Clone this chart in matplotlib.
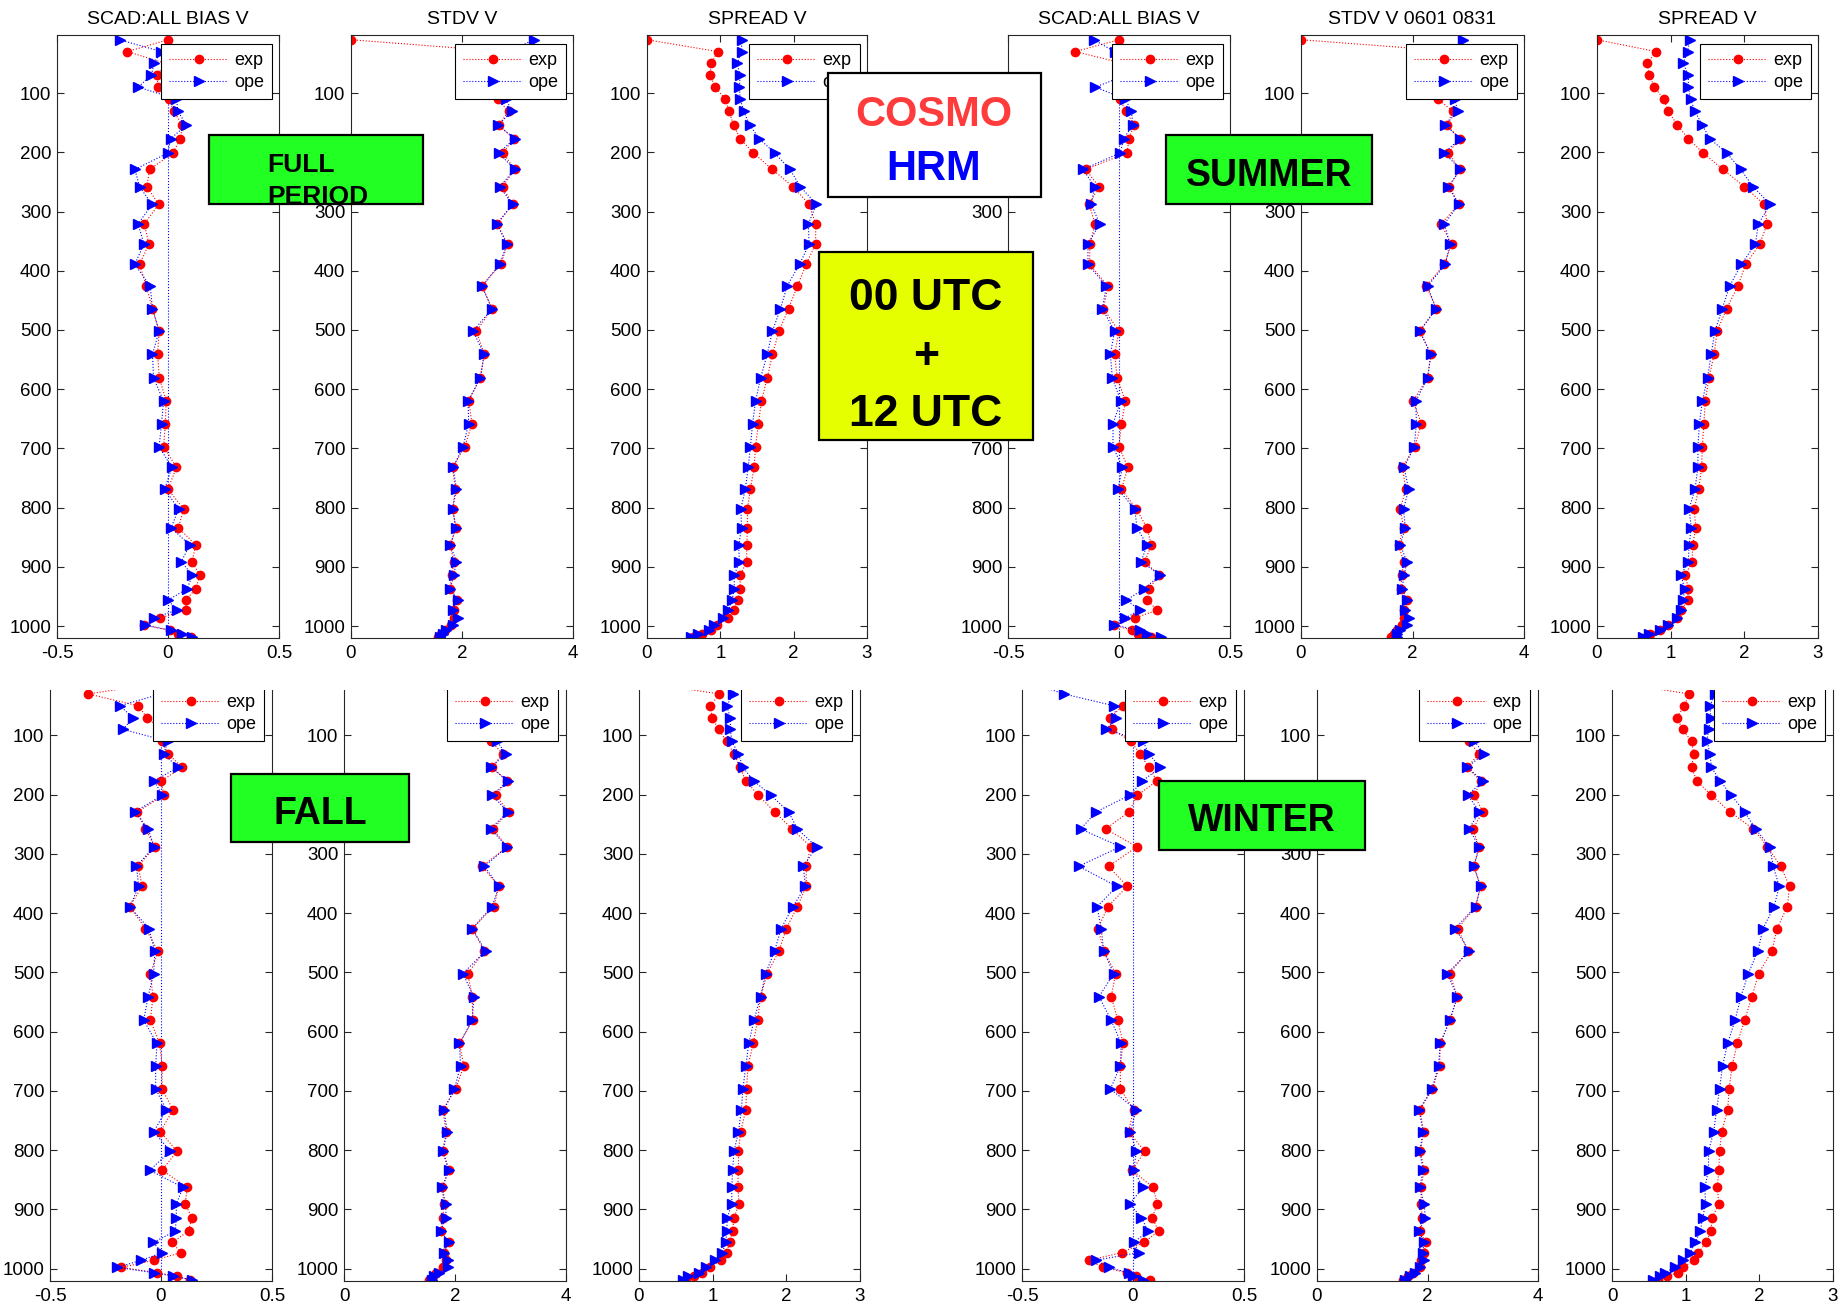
import matplotlib
matplotlib.use("Agg")
import matplotlib.pyplot as plt
import matplotlib.patches as patches

plt.rcParams['font.family'] = ['Liberation Sans', 'DejaVu Sans']
plt.rcParams['axes.unicode_minus'] = False

# pressure of the model levels (hPa)
plev = [10, 30, 50, 70, 90, 110, 131, 154, 177, 201, 229, 258, 288, 321, 355,
        389, 426, 464, 502, 541, 581, 620, 658, 697, 732, 769, 802, 834, 863,
        891, 914, 937, 956, 973, 986, 998, 1007, 1013, 1019]

# ---- full period ----
bias_full_exp = [0.0, -0.183, -0.01, -0.05, -0.044, 0.005, 0.026, 0.065, 0.056, 0.023,
                 -0.083, -0.095, -0.042, -0.107, -0.086, -0.128, -0.098, -0.07, -0.04, -0.047,
                 -0.039, -0.008, -0.012, -0.02, 0.038, 0.0, 0.07, 0.047, 0.125, 0.108,
                 0.143, 0.125, 0.08, 0.083, -0.035, -0.11, 0.008, 0.045, 0.105]
bias_full_ope = [-0.218, -0.03, -0.063, -0.075, -0.135, 0.038, 0.045, 0.083, 0.012, 0.0,
                 -0.149, -0.128, -0.072, -0.135, -0.108, -0.15, -0.08, -0.07, -0.04, -0.07,
                 -0.065, -0.02, -0.029, -0.04, 0.017, -0.015, 0.048, 0.014, 0.098, 0.06,
                 0.11, 0.086, 0.0, 0.04, -0.065, -0.105, 0.015, 0.065, 0.11]
stdv_full_exp = [0.0, 2.76, 2.7, 2.75, 2.7, 2.64, 2.84, 2.66, 2.93, 2.74,
                 2.95, 2.73, 2.91, 2.63, 2.82, 2.7, 2.36, 2.54, 2.26, 2.4,
                 2.33, 2.12, 2.18, 2.05, 1.83, 1.88, 1.83, 1.89, 1.79, 1.85,
                 1.82, 1.78, 1.91, 1.86, 1.85, 1.8, 1.69, 1.63, 1.56]
stdv_full_ope = [3.29, 2.85, 2.75, 2.8, 2.75, 2.79, 2.9, 2.65, 2.95, 2.66,
                 2.95, 2.68, 2.91, 2.63, 2.81, 2.68, 2.36, 2.54, 2.2, 2.4,
                 2.33, 2.11, 2.12, 2.02, 1.84, 1.9, 1.83, 1.89, 1.79, 1.9,
                 1.85, 1.79, 1.93, 1.84, 1.92, 1.84, 1.72, 1.65, 1.6]
sprd_full_exp = [0.0, 0.965, 0.875, 0.86, 0.93, 1.065, 1.12, 1.18, 1.27, 1.45,
                 1.71, 1.99, 2.21, 2.30, 2.30, 2.17, 2.05, 1.93, 1.80, 1.71,
                 1.64, 1.56, 1.52, 1.48, 1.46, 1.41, 1.37, 1.37, 1.36, 1.36,
                 1.27, 1.27, 1.24, 1.18, 1.11, 0.96, 0.875, 0.75, 0.63]
sprd_full_ope = [1.29, 1.29, 1.23, 1.27, 1.26, 1.27, 1.32, 1.40, 1.53, 1.74,
                 1.95, 2.09, 2.31, 2.2, 2.21, 2.08, 1.91, 1.82, 1.71, 1.64,
                 1.55, 1.48, 1.44, 1.41, 1.38, 1.34, 1.28, 1.29, 1.25, 1.26,
                 1.19, 1.19, 1.16, 1.11, 1.03, 0.91, 0.84, 0.69, 0.60]

# ---- summer (0601-0831) ----
bias_sum_exp = [0.0, -0.197, 0.02, 0.01, -0.01, 0.003, 0.033, 0.068, 0.045, 0.036,
                -0.15, -0.09, -0.135, -0.107, -0.132, -0.132, -0.05, -0.07, 0.0, -0.02,
                -0.008, 0.029, 0.011, 0.0, 0.04, 0.011, 0.078, 0.126, 0.146, 0.116,
                0.18, 0.135, 0.128, 0.171, 0.074, -0.024, 0.059, 0.086, 0.146]
bias_sum_ope = [-0.114, -0.02, 0.0, 0.03, -0.107, 0.029, 0.056, 0.063, 0.021, 0.006,
                -0.162, -0.11, -0.125, -0.087, -0.14, -0.14, -0.057, -0.075, -0.02, -0.039,
                -0.03, 0.008, -0.027, -0.027, 0.015, -0.005, 0.071, 0.081, 0.126, 0.1,
                0.186, 0.113, 0.033, 0.093, 0.029, -0.024, 0.093, 0.128, 0.19]
stdv_sum_exp = [0.0, 2.8, 2.75, 2.8, 2.7, 2.45, 2.73, 2.61, 2.85, 2.64,
                2.85, 2.66, 2.83, 2.51, 2.70, 2.57, 2.25, 2.43, 2.13, 2.33,
                2.27, 2.01, 2.16, 2.04, 1.82, 1.88, 1.78, 1.84, 1.75, 1.84,
                1.81, 1.79, 1.90, 1.85, 1.85, 1.81, 1.72, 1.67, 1.61]
stdv_sum_ope = [2.91, 2.85, 2.8, 2.85, 2.75, 2.76, 2.81, 2.59, 2.85, 2.57,
                2.86, 2.64, 2.83, 2.57, 2.67, 2.59, 2.27, 2.42, 2.13, 2.33,
                2.27, 2.06, 2.07, 2.03, 1.85, 1.93, 1.84, 1.87, 1.78, 1.90,
                1.85, 1.81, 1.91, 1.87, 1.94, 1.90, 1.78, 1.73, 1.72]
sprd_sum_exp = [0.0, 0.805, 0.68, 0.71, 0.78, 0.905, 0.97, 1.09, 1.24, 1.44,
                1.71, 2.0, 2.27, 2.31, 2.21, 2.02, 1.91, 1.76, 1.63, 1.59,
                1.52, 1.47, 1.45, 1.43, 1.42, 1.38, 1.32, 1.34, 1.30, 1.29,
                1.20, 1.24, 1.23, 1.14, 1.09, 0.96, 0.85, 0.715, 0.66]
sprd_sum_ope = [1.26, 1.23, 1.17, 1.24, 1.24, 1.27, 1.33, 1.43, 1.53, 1.76,
                1.95, 2.12, 2.35, 2.19, 2.15, 1.96, 1.80, 1.70, 1.60, 1.55,
                1.50, 1.43, 1.39, 1.37, 1.37, 1.33, 1.25, 1.28, 1.25, 1.24,
                1.14, 1.19, 1.17, 1.14, 1.09, 0.96, 0.85, 0.71, 0.62]

# ---- fall ----
bias_fall_exp = [0.03, -0.328, -0.103, -0.063, 0.0, 0.005, 0.031, 0.096, 0.0, 0.013,
                 -0.106, -0.07, -0.028, -0.103, -0.085, -0.141, -0.07, -0.013, -0.048, -0.036,
                 -0.048, -0.006, 0.005, 0.005, 0.054, -0.003, 0.072, 0.005, 0.118, 0.109,
                 0.139, 0.124, 0.049, 0.091, -0.031, -0.178, -0.02, 0.07, 0.13]
bias_fall_ope = [-0.05, 0.0, -0.186, -0.126, -0.171, 0.031, 0.012, 0.076, -0.031, 0.006,
                 -0.118, -0.058, -0.031, -0.111, -0.1, -0.141, -0.055, -0.028, -0.033, -0.058,
                 -0.078, -0.018, -0.024, -0.024, 0.024, -0.033, 0.042, -0.051, 0.099, 0.069,
                 0.069, 0.064, -0.036, 0.006, -0.088, -0.198, -0.03, 0.055, 0.14]
stdv_fall_exp = [0.0, 2.8, 2.7, 2.75, 2.7, 2.65, 2.86, 2.67, 2.94, 2.73,
                 2.97, 2.68, 2.94, 2.49, 2.79, 2.70, 2.31, 2.53, 2.23, 2.31,
                 2.32, 2.08, 2.16, 2.01, 1.78, 1.84, 1.78, 1.89, 1.77, 1.80,
                 1.78, 1.75, 1.89, 1.81, 1.83, 1.78, 1.66, 1.60, 1.53]
stdv_fall_ope = [3.0, 2.85, 2.75, 2.8, 2.75, 2.76, 2.91, 2.65, 2.95, 2.67,
                 2.95, 2.64, 2.94, 2.53, 2.79, 2.67, 2.31, 2.55, 2.14, 2.34,
                 2.31, 2.08, 2.10, 1.99, 1.80, 1.86, 1.78, 1.89, 1.77, 1.83,
                 1.84, 1.74, 1.89, 1.80, 1.87, 1.87, 1.72, 1.63, 1.59]
sprd_fall_exp = [0.0, 1.09, 0.97, 0.99, 1.08, 1.19, 1.29, 1.37, 1.45, 1.62,
                 1.84, 2.08, 2.33, 2.27, 2.27, 2.15, 2.0, 1.90, 1.74, 1.65,
                 1.61, 1.55, 1.48, 1.46, 1.45, 1.38, 1.35, 1.35, 1.34, 1.36,
                 1.29, 1.27, 1.23, 1.19, 1.11, 0.96, 0.86, 0.74, 0.64]
sprd_fall_ope = [1.3, 1.28, 1.19, 1.24, 1.24, 1.26, 1.35, 1.41, 1.56, 1.79,
                 2.03, 2.15, 2.41, 2.23, 2.26, 2.09, 1.93, 1.84, 1.72, 1.65,
                 1.56, 1.49, 1.45, 1.41, 1.39, 1.35, 1.29, 1.27, 1.26, 1.26,
                 1.20, 1.19, 1.18, 1.13, 1.03, 0.91, 0.82, 0.67, 0.60]

# ---- winter ----
bias_win_exp = [0.0, 0.0, -0.045, -0.102, -0.095, -0.008, 0.03, 0.072, 0.108, 0.02,
                -0.018, -0.123, 0.018, -0.11, -0.026, -0.113, -0.158, -0.131, -0.078, -0.098,
                -0.068, -0.045, -0.057, -0.057, 0.003, -0.02, 0.053, -0.003, 0.09, 0.11,
                0.086, 0.116, 0.048, -0.05, -0.198, -0.135, -0.026, 0.015, 0.078]
bias_win_ope = [-0.47, -0.312, -0.086, -0.075, -0.12, 0.045, 0.071, 0.123, 0.042, -0.015,
                -0.165, -0.236, -0.057, -0.245, -0.072, -0.162, -0.143, -0.132, -0.087, -0.153,
                -0.098, -0.053, -0.057, -0.102, 0.015, -0.012, 0.015, 0.003, 0.045, -0.015,
                0.038, 0.068, 0.003, 0.026, -0.168, -0.11, -0.02, 0.0, 0.045]
stdv_win_exp = [0.0, 2.85, 2.8, 2.85, 2.8, 2.75, 2.93, 2.72, 2.96, 2.85,
                3.0, 2.82, 2.93, 2.84, 2.96, 2.87, 2.55, 2.73, 2.40, 2.54,
                2.41, 2.23, 2.22, 2.09, 1.86, 1.93, 1.87, 1.94, 1.88, 1.89,
                1.90, 1.86, 1.97, 1.94, 1.89, 1.86, 1.74, 1.65, 1.56]
stdv_win_ope = [3.1, 2.9, 2.85, 2.9, 2.85, 2.85, 3.02, 2.72, 3.0, 2.73,
                2.94, 2.75, 2.94, 2.84, 2.96, 2.87, 2.50, 2.76, 2.36, 2.54,
                2.40, 2.23, 2.20, 2.08, 1.85, 1.92, 1.86, 1.92, 1.86, 1.94,
                1.96, 1.85, 1.94, 1.91, 1.93, 1.87, 1.77, 1.68, 1.59]
sprd_win_exp = [0.0, 1.05, 0.98, 0.88, 0.96, 1.08, 1.11, 1.08, 1.15, 1.35,
                1.60, 1.92, 2.11, 2.29, 2.41, 2.38, 2.24, 2.17, 1.99, 1.90,
                1.80, 1.70, 1.63, 1.59, 1.57, 1.49, 1.46, 1.45, 1.43, 1.45,
                1.36, 1.34, 1.28, 1.17, 1.11, 0.97, 0.90, 0.74, 0.63]
sprd_win_ope = [1.38, 1.40, 1.33, 1.34, 1.31, 1.29, 1.33, 1.35, 1.47, 1.62,
                1.80, 1.95, 2.14, 2.19, 2.27, 2.20, 2.05, 1.98, 1.85, 1.75,
                1.67, 1.57, 1.50, 1.46, 1.42, 1.38, 1.31, 1.31, 1.26, 1.27,
                1.23, 1.20, 1.13, 1.06, 0.97, 0.85, 0.72, 0.645, 0.56]

top_titles = ["SCAD:ALL BIAS V", "STDV V", "SPREAD V",
              "SCAD:ALL BIAS V", "STDV V 0601 0831", "SPREAD V"]

W, H = 1841, 1306
fig = plt.figure(figsize=(W / 100, H / 100), dpi=100)

FRAME = '#262626'


def panel(x0, width, row, kind, exp, ope, title=None):
    # row 0: top strip, row 1: lower strip (cut off just below its top)
    if row == 0:
        y_top, y_bot, ylim = 35, 638, (1020, 2)
    else:
        y_top, y_bot, ylim = 690, 1281, (1021, 23.4)
    ax = fig.add_axes([x0 / W, 1 - y_bot / H, width / W, (y_bot - y_top) / H])

    if kind == 'bias':
        xlim, xt, xtl = (-0.5, 0.5), [-0.5, 0, 0.5], ['-0.5', '0', '0.5']
        ax.axvline(0, color='blue', ls=':', lw=0.8, zorder=1)
    elif kind == 'stdv':
        xlim, xt, xtl = (0, 4), [0, 2, 4], ['0', '2', '4']
    else:
        xlim, xt, xtl = (0, 3), [0, 1, 2, 3], ['0', '1', '2', '3']

    ax.plot(exp, plev, color='red', ls=':', lw=0.8, marker='o', ms=6,
            mfc='red', mec='red', label='exp')
    ax.plot(ope, plev, color='blue', ls=':', lw=0.8, marker='>', ms=6.5,
            mfc='blue', mec='blue', label='ope')

    ax.set_xlim(*xlim)
    ax.set_ylim(*ylim)
    ax.set_xticks(xt)
    ax.set_xticklabels(xtl)
    ax.set_yticks(range(100, 1001, 100))
    ax.tick_params(direction='in', length=5, width=0.8, color=FRAME,
                   labelsize=13.5, top=(row == 0), right=True)
    ax.tick_params(axis='y', pad=4)
    ax.tick_params(axis='x', pad=5)
    for s in ax.spines.values():
        s.set_color(FRAME)
        s.set_linewidth(0.8)
    if row == 1:
        ax.spines['top'].set_visible(False)

    h = y_bot - y_top
    if row == 0:
        anchor = (1 - 7 / width, 1 - 9 / h)
    else:
        anchor = (1 - 8 / width, 1 + 4 / h)
    leg = ax.legend(loc='upper right', bbox_to_anchor=anchor, borderaxespad=0,
                    fontsize=13, handlelength=3.3, handletextpad=0.3,
                    labelspacing=0.28, borderpad=0.45, fancybox=False,
                    edgecolor='black', framealpha=1)
    leg.get_frame().set_linewidth(0.8)

    if title:
        ax.set_title(title, fontsize=14, pad=8)
    return ax


top_x = [57, 351, 647, 1008, 1301, 1597]
top_w = [222, 222, 220, 222, 223, 221]
bot_x = [50, 344, 639, 1022, 1317, 1612]
bot_w = [222, 222, 221, 222, 221, 221]
kinds = ['bias', 'stdv', 'spread'] * 2

top_data = [(bias_full_exp, bias_full_ope), (stdv_full_exp, stdv_full_ope),
            (sprd_full_exp, sprd_full_ope), (bias_sum_exp, bias_sum_ope),
            (stdv_sum_exp, stdv_sum_ope), (sprd_sum_exp, sprd_sum_ope)]
bot_data = [(bias_fall_exp, bias_fall_ope), (stdv_fall_exp, stdv_fall_ope),
            (sprd_fall_exp, sprd_fall_ope), (bias_win_exp, bias_win_ope),
            (stdv_win_exp, stdv_win_ope), (sprd_win_exp, sprd_win_ope)]

for i in range(6):
    panel(top_x[i], top_w[i], 0, kinds[i], *top_data[i], title=top_titles[i])
    panel(bot_x[i], bot_w[i], 1, kinds[i], *bot_data[i])

# overlay in pixel coordinates for the labels
ov = fig.add_axes([0, 0, 1, 1], zorder=10)
ov.set_xlim(0, W)
ov.set_ylim(H, 0)
ov.axis('off')

# the lower strip is cut off just below its top edge
ov.add_patch(patches.Rectangle((0, 672), W, 17.6, facecolor='white',
                               edgecolor='none', zorder=1))

GREEN = '#22FF22'
YELLOW = '#E6FF00'


def box(x0, y0, x1, y1, color):
    ov.add_patch(patches.Rectangle((x0, y0), x1 - x0, y1 - y0, facecolor=color,
                                   edgecolor='black', lw=1.6, zorder=2))


def label(x, y, s, size, color='black', ha='center'):
    ov.text(x, y, s, fontsize=size, fontweight='bold', color=color,
            ha=ha, va='center_baseline', zorder=3)


box(209, 135, 423, 204, GREEN)
label(267, 162, "FULL", 19, ha='left')
label(267, 194, "PERIOD", 19, ha='left')

box(828, 73, 1041, 197, 'white')
label(934, 111, "COSMO", 30, color='#FF3B3B')
label(934, 164, "HRM", 30, color='blue')

box(819, 252, 1033, 440, YELLOW)
label(926, 294, "00 UTC", 32)
label(926, 353, "+", 32)
label(926, 410, "12 UTC", 32)

box(1166, 135, 1372, 204, GREEN)
label(1269, 172, "SUMMER", 27)

box(231, 774, 409, 842, GREEN)
label(320, 810, "FALL", 27)

box(1159, 781, 1365, 850, GREEN)
label(1262, 817, "WINTER", 27)

fig.savefig("out.png", dpi=100)
